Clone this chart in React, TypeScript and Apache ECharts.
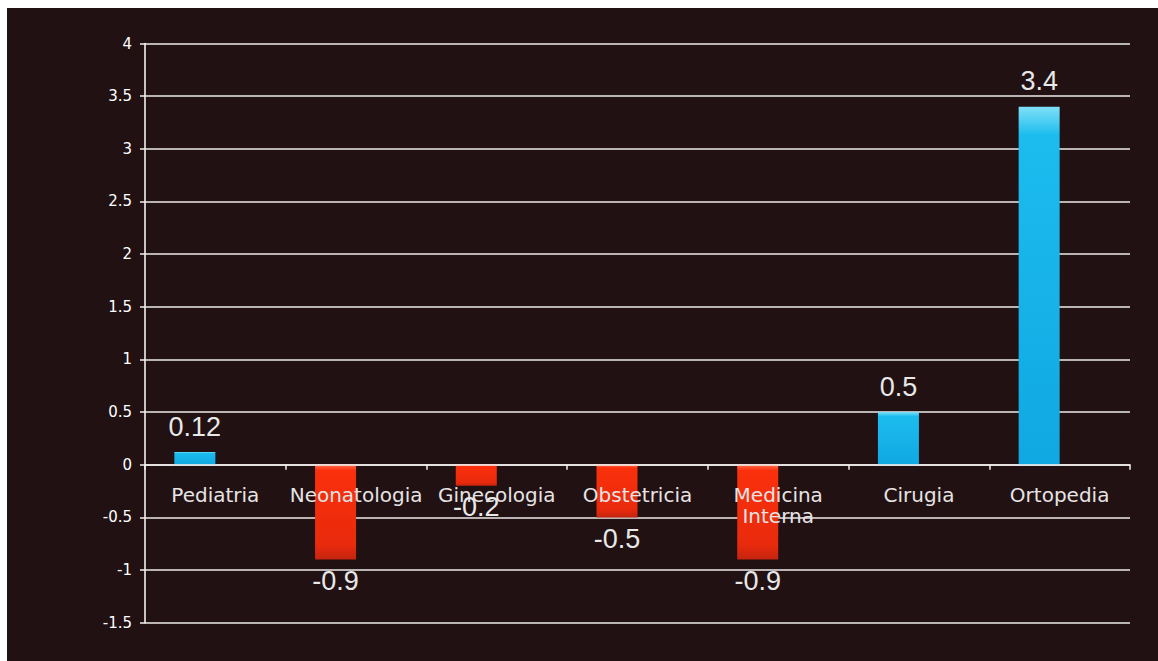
import React, { useEffect, useRef } from "react";
import * as echarts from "echarts";

const categories = [
  "Pediatria",
  "Neonatologia",
  "Ginecologia",
  "Obstetricia",
  "Medicina Interna",
  "Cirugia",
  "Ortopedia",
];
const values = [0.12, -0.9, -0.2, -0.5, -0.9, 0.5, 3.4];
const emptySeries = [null, null, null, null, null, null, null];
const yMin = -1.5;
const yMax = 4;
const yStep = 0.5;

const BG = "#211113";

const blueGrad = new echarts.graphic.LinearGradient(0, 0, 0, 1, [
  { offset: 0, color: "#7fe0f8" },
  { offset: 0.08, color: "#1cbcee" },
  { offset: 1, color: "#10a8e2" },
]);
const redGrad = new echarts.graphic.LinearGradient(0, 0, 0, 1, [
  { offset: 0, color: "#ff7050" },
  { offset: 0.06, color: "#fb300c" },
  { offset: 0.85, color: "#e82a0c" },
  { offset: 1, color: "#c42410" },
]);

const GRID_TOP = 35.5;
const GRID_BOTTOM = 38.3;
const CHART_H = 653;

export default function App() {
  const ref = useRef<HTMLDivElement>(null);

  useEffect(() => {
    if (!ref.current) return;
    const chart = echarts.init(ref.current, null, { renderer: "svg" });
    const data = values.map((v) => ({
      value: v,
      itemStyle: { color: v >= 0 ? blueGrad : redGrad },
      label: {
        position: v >= 0 ? "top" : "bottom",
        distance: v >= 0 ? 12 : 8,
      },
    }));
    // distance from the zero line to the grid's bottom edge, so that the
    // category labels sit just below the zero line as in the reference
    const plotH = CHART_H - GRID_TOP - GRID_BOTTOM;
    const zeroToBottom = (plotH * (0 - yMin)) / (yMax - yMin);
    chart.setOption({
      animation: false,
      backgroundColor: BG,
      grid: {
        left: 138,
        top: GRID_TOP,
        right: 28,
        bottom: GRID_BOTTOM,
        containLabel: false,
        outerBoundsMode: "none",
      },
      xAxis: {
        type: "category",
        data: categories,
        z: 5,
        axisLine: { onZero: true, lineStyle: { color: "#f4f0f0", width: 1.6 } },
        axisTick: { show: true, length: 5, inside: false, lineStyle: { color: "#f4f0f0", width: 1.5 } },
        axisLabel: {
          interval: 0,
          margin: 20 - zeroToBottom,
          color: "#e6e4e4",
          fontFamily: "DejaVu Sans",
          fontSize: 20,
          lineHeight: 21,
          formatter: (v: string) => v.replace(" ", "\n"),
        },
        splitLine: { show: false },
      },
      yAxis: {
        type: "value",
        min: yMin,
        max: yMax,
        interval: yStep,
        axisLine: { show: true, lineStyle: { color: "#f4f0f0", width: 1.6 } },
        axisTick: { show: true, length: 5, lineStyle: { color: "#f4f0f0", width: 1.5 } },
        axisLabel: {
          margin: 13,
          color: "#ffffff",
          fontFamily: "DejaVu Sans",
          fontSize: 15,
        },
        splitLine: { show: true, lineStyle: { color: "#efebeb", width: 1.6 } },
      },
      series: [
        {
          name: "Serie1",
          type: "bar",
          data,
          barWidth: 41,
          barGap: "0%",
          label: {
            show: true,
            color: "#e8e8e8",
            fontFamily: "Liberation Sans",
            fontSize: 27,
          },
        },
        {
          name: "Serie2",
          type: "bar",
          data: emptySeries,
          barWidth: 41,
          barGap: "0%",
        },
      ],
    });
    return () => chart.dispose();
  }, []);

  return (
    <div
      ref={ref}
      style={{ position: "absolute", left: 7, top: 8, width: 1151, height: CHART_H }}
    />
  );
}
